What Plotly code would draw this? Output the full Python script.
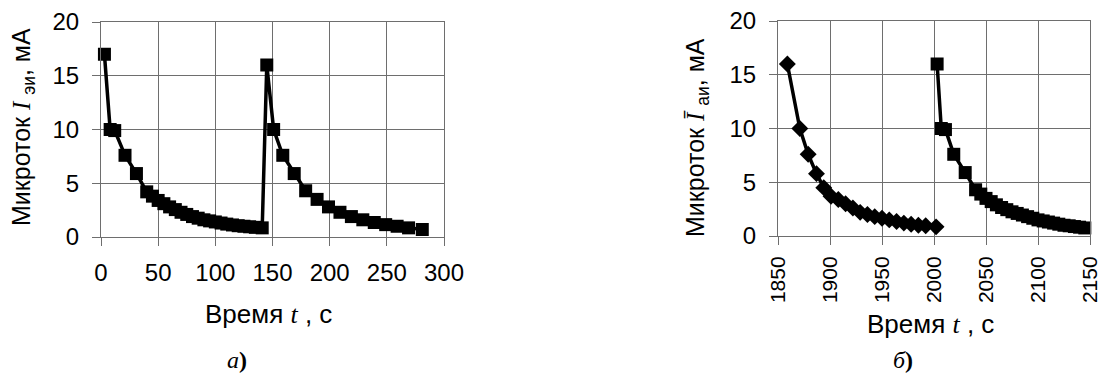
import plotly.graph_objects as go

# ---- data: panel a) ----
t_a = [3, 8, 12, 21, 31, 40, 45, 50, 55, 60, 65, 70, 75, 80, 85, 90, 95, 100, 105, 110,
       115, 120, 125, 130, 135, 141,
       145, 151, 159, 169, 179, 189, 199, 209, 219, 229, 239, 249, 259, 269, 281]
i_a = [17, 10, 9.9, 7.6, 5.9, 4.2, 3.8, 3.4, 3.1, 2.8, 2.55, 2.3, 2.1, 1.9, 1.75, 1.6, 1.5, 1.4, 1.3, 1.2,
       1.12, 1.05, 1.0, 0.95, 0.9, 0.85,
       16, 10, 7.6, 5.9, 4.3, 3.5, 2.8, 2.3, 1.9, 1.6, 1.35, 1.15, 1.0, 0.85, 0.7]

# ---- data: panel б) ----
t_b1 = [1859, 1871, 1879, 1887, 1894, 1901, 1908, 1915, 1922, 1929, 1936, 1943,
        1950, 1957, 1964, 1971, 1978, 1985, 1992, 2002]
i_b1 = [16, 10, 7.6, 5.8, 4.5, 3.7, 3.4, 3.0, 2.6, 2.2, 2.0, 1.8,
        1.65, 1.5, 1.35, 1.2, 1.1, 1.0, 0.95, 0.85]
t_b2 = [2003, 2007, 2011, 2019, 2030, 2040, 2045, 2050, 2055, 2060, 2065, 2070, 2075, 2080,
        2085, 2090, 2095, 2100, 2105, 2110, 2115, 2120, 2125, 2130, 2135, 2140, 2145]
i_b2 = [16, 10, 9.9, 7.6, 5.9, 4.3, 3.9, 3.5, 3.2, 2.9, 2.65, 2.45, 2.25, 2.1,
        1.95, 1.8, 1.65, 1.5, 1.4, 1.3, 1.2, 1.1, 1.0, 0.95, 0.88, 0.82, 0.75]

xticks_a = [0, 50, 100, 150, 200, 250, 300]
xticks_b = [1850, 1900, 1950, 2000, 2050, 2100, 2150]
yticks = [0, 5, 10, 15, 20]

W, H = 1100, 387
FONT = "Liberation Sans, Arial, sans-serif"
SERIF = "Liberation Serif, Times New Roman, serif"
GRID = "#6e6e6e"

fig = go.Figure()
fig.add_trace(go.Scatter(x=t_a, y=i_a, mode="lines+markers", xaxis="x", yaxis="y",
                         line=dict(color="black", width=3.5),
                         marker=dict(symbol="square", size=13, color="black"),
                         cliponaxis=False, showlegend=False))
fig.add_trace(go.Scatter(x=t_b1, y=i_b1, mode="lines+markers", xaxis="x2", yaxis="y2",
                         line=dict(color="black", width=3.5),
                         marker=dict(symbol="diamond", size=13, color="black"),
                         cliponaxis=False, showlegend=False))
fig.add_trace(go.Scatter(x=t_b2, y=i_b2, mode="lines+markers", xaxis="x2", yaxis="y2",
                         line=dict(color="black", width=3.5),
                         marker=dict(symbol="square", size=13, color="black"),
                         cliponaxis=False, showlegend=False))

def px_x(p):
    return p / W

def px_y(p):
    return 1 - p / H

axis_common = dict(showgrid=True, gridcolor=GRID, gridwidth=1, zeroline=False,
                   showline=True, linecolor=GRID, linewidth=1, mirror=True,
                   ticks="outside", ticklen=8, tickcolor=GRID, automargin=False,
                   ticklabeloverflow="allow")

fig.update_layout(
    width=W, height=H, margin=dict(l=0, r=0, t=0, b=0, autoexpand=False),
    paper_bgcolor="white", plot_bgcolor="white",
    xaxis=dict(domain=[px_x(101), px_x(444)], range=[0, 300], tickvals=xticks_a,
               anchor="y", ticklabelstandoff=6,
               tickfont=dict(family=FONT, size=24, color="black"), **axis_common),
    yaxis=dict(domain=[px_y(237), px_y(22)], range=[0, 20], tickvals=yticks,
               anchor="x", ticklabelstandoff=8,
               tickfont=dict(family=FONT, size=24, color="black"), **axis_common),
    xaxis2=dict(domain=[px_x(778), px_x(1090)], range=[1850, 2150], tickvals=xticks_b,
                tickangle=-90, anchor="y2", ticklabelstandoff=3,
                tickfont=dict(family=FONT, size=21, color="black"), **axis_common),
    yaxis2=dict(domain=[px_y(236), px_y(21)], range=[0, 20], tickvals=yticks,
                anchor="x2", ticklabelstandoff=8,
                tickfont=dict(family=FONT, size=24, color="black"), **axis_common),
)

def ann(text, x, y, size=24, angle=0, family=FONT):
    fig.add_annotation(text=text, x=px_x(x), y=px_y(y), xref="paper", yref="paper",
                       showarrow=False, textangle=angle, xanchor="center", yanchor="middle",
                       font=dict(family=family, size=size, color="black"))

ann("Микроток <span style='font-family:Liberation Serif'><i>I</i></span> <sub>эи</sub>, мА",
    23, 127, size=25, angle=-90)
ann("Микроток <span style='font-family:Liberation Serif'><i>Ī</i></span> <sub>аи</sub>, мА",
    697, 138, size=25, angle=-90)
ann("Время <span style='font-family:Liberation Serif'><i>t</i></span> , с", 268, 314, size=26)
ann("Время <span style='font-family:Liberation Serif'><i>t</i></span> , с", 930, 324, size=26)
ann("<i>а</i><b>)</b>", 237, 360, size=24, family=SERIF)
ann("<i>б</i><b>)</b>", 903, 360, size=24, family=SERIF)

fig.write_html(
    "out.html",
    config={"displayModeBar": False},
    post_script="document.body.style.margin='0';document.body.style.overflow='hidden';",
)
